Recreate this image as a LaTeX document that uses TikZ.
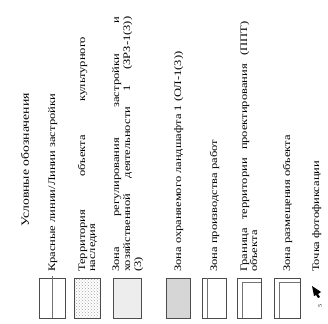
\documentclass[tikz,border=0pt]{standalone}
\usepackage{fontspec}
\setmainfont[FakeStretch=1.25]{Liberation Serif}
\usetikzlibrary{patterns}

\begin{document}
\begin{tikzpicture}[x=1pt,y=1pt,
    lbl/.style={rotate=90,anchor=base west,inner sep=0pt,font=\fontsize{10}{10.5}\selectfont},
    swatch/.style={draw=black!70,line width=0.6pt},
    inner/.style={draw=black!55,line width=0.5pt}]
  \useasboundingbox (0,0) rectangle (328,323);
  % title
  \node[rotate=90,inner sep=0pt,font=\fontsize{11}{12}\selectfont] (title) at (25,163) {Условные обозначения};
  % swatches
  \draw[swatch] (39,5) rectangle (65,45);
  \draw[inner] (52,5) -- (52,47);
  \draw[swatch,pattern=crosshatch dots,pattern color=black!35] (74,5) rectangle (100,45);
  \draw[swatch,fill=black!7] (113,5) rectangle (141,45);
  \draw[swatch,fill=black!16] (166,5) rectangle (190,45);
  \draw[swatch] (202,5) rectangle (226,45);
  \draw[inner] (207,5) -- (207,45);
  \draw[swatch] (237,5) rectangle (261,45);
  \draw[inner] (242,5) -- (242,41) -- (261,41);
  \draw[swatch] (274,5) rectangle (300,45);
  \draw[inner] (279,5) -- (279,41) -- (300,41);
  % photo point
  \fill[black] (312,37) -- (321,31) -- (318,29) -- (320,26) -- (318,25) -- (316,28) -- (314,27) -- cycle;
  \node[rotate=90,font=\fontsize{5}{5}\selectfont,inner sep=0pt] (ptnum) at (320,17) {5};
  % labels
  \node[lbl] (l1) at (55,51) {Красные линии/Линии застройки};
  \node[lbl] (l2a) at (85,51) {\makebox[235pt][s]{Территория объекта культурного}};
  \node[lbl] (l2b) at (95,51) {наследия};
  \node[lbl] (l3a) at (119,51) {\makebox[255pt][s]{Зона регулирования застройки и}};
  \node[lbl] (l3b) at (130,51) {\makebox[255pt][s]{хозяйственной деятельности 1 (ЗРЗ-1(3))}};
  \node[lbl] (l3c) at (141,51) {(3)};
  \node[lbl] (l4) at (181,51) {Зона охраняемого ландшафта 1 (ОЛ-1(3))};
  \node[lbl] (l5) at (217,51) {Зона производства работ};
  \node[lbl] (l6a) at (247,51) {\makebox[250pt][s]{Граница территории проектирования (ППТ)}};
  \node[lbl] (l6b) at (257,51) {объекта};
  \node[lbl] (l7) at (290,51) {Зона размещения объекта};
  \node[lbl] (l8) at (319,51) {Точка фотофиксации};
\end{tikzpicture}
\end{document}
